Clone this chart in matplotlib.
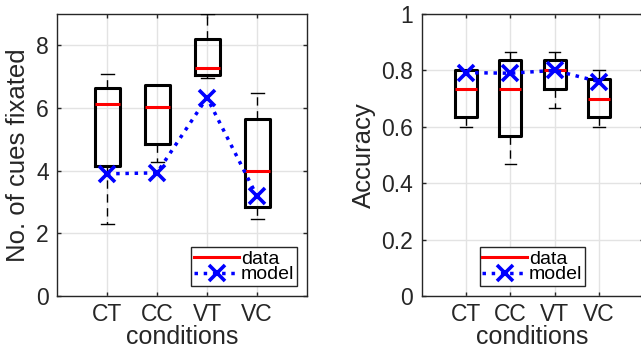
import matplotlib
matplotlib.use("Agg")
import matplotlib.pyplot as plt

plt.rcParams['font.family'] = ['Liberation Sans', 'DejaVu Sans']

conditions = ["CT", "CC", "VT", "VC"]

# no. of cues fixated: box stats
fix_med = [6.12, 6.04, 7.29, 3.98]
fix_q1 = [4.16, 4.84, 7.05, 2.83]
fix_q3 = [6.63, 6.73, 8.20, 5.64]
fix_lo = [2.29, 4.28, 6.95, 2.47]
fix_hi = [7.08, 6.73, 9.00, 6.49]
fix_model = [3.90, 3.93, 6.33, 3.19]

# accuracy
acc_med = [0.735, 0.735, 0.800, 0.700]
acc_q1 = [0.634, 0.567, 0.733, 0.634]
acc_q3 = [0.800, 0.836, 0.836, 0.770]
acc_lo = [0.600, 0.468, 0.668, 0.600]
acc_hi = [0.800, 0.866, 0.866, 0.800]
acc_model = [0.792, 0.790, 0.800, 0.760]

W, H = 641, 350
fig = plt.figure(figsize=(W / 100, H / 100), dpi=100)
ax1 = fig.add_axes([57 / W, 54 / H, 250 / W, 282 / H])
ax2 = fig.add_axes([421.5 / W, 54 / H, 222 / W, 282 / H])

spine_c = "#262626"


def draw_panel(ax, med, q1, q3, lo, hi, model, ylim, yticks, yticklabels, ylabel, legend_loc):
    stats = []
    for i in range(len(conditions)):
        stats.append(dict(med=med[i], q1=q1[i], q3=q3[i], whislo=lo[i], whishi=hi[i],
                          fliers=[], label=conditions[i]))
    pos = list(range(1, len(conditions) + 1))
    ax.bxp(stats, positions=pos, widths=0.5, showfliers=False,
           boxprops=dict(color="black", linewidth=2.2),
           whiskerprops=dict(color="black", linewidth=1.0, linestyle=(0, (6, 4))),
           capprops=dict(color="black", linewidth=1.0),
           medianprops=dict(color="red", linewidth=2.2),
           capwidths=0.26, zorder=3)
    ax.plot([], [], color="red", linewidth=2.2, label="data")
    ax.plot(pos, model, color="blue", linestyle=":", linewidth=2.5, marker="x",
            markersize=11, markeredgewidth=2.6, label="model", zorder=4)

    ax.set_xlim(0, 5)
    ax.set_ylim(*ylim)
    ax.set_xticks(pos)
    ax.set_xticklabels(conditions)
    ax.set_yticks(yticks)
    ax.set_yticklabels(yticklabels)
    ax.grid(True, color="#e3e3e3", linewidth=1.0, zorder=0)
    ax.set_axisbelow(True)
    ax.tick_params(direction="in", length=3, width=1, top=True, right=True,
                   labelsize=16.5, colors=spine_c)
    ax.tick_params(axis="y", pad=6)
    ax.tick_params(axis="x", pad=5)
    for s in ax.spines.values():
        s.set_color(spine_c)
        s.set_linewidth(1.0)
    ax.set_xlabel("conditions", fontsize=18, color=spine_c, labelpad=-1)
    ax.set_ylabel(ylabel, fontsize=18.5, color=spine_c, labelpad=4)
    leg = ax.legend(loc=legend_loc, fontsize=14, handlelength=2.3, handletextpad=0.1,
                    borderpad=0.15, labelspacing=-0.1, fancybox=False, framealpha=1,
                    borderaxespad=0.5)
    leg.get_frame().set_edgecolor(spine_c)
    leg.get_frame().set_linewidth(1.0)


draw_panel(ax1, fix_med, fix_q1, fix_q3, fix_lo, fix_hi, fix_model,
           (0, 9), [0, 2, 4, 6, 8], ["0", "2", "4", "6", "8"],
           "No. of cues fixated", "lower right")
draw_panel(ax2, acc_med, acc_q1, acc_q3, acc_lo, acc_hi, acc_model,
           (0, 1), [0, 0.2, 0.4, 0.6, 0.8, 1], ["0", "0.2", "0.4", "0.6", "0.8", "1"],
           "Accuracy", "lower center")

fig.savefig("out.png", dpi=100)
